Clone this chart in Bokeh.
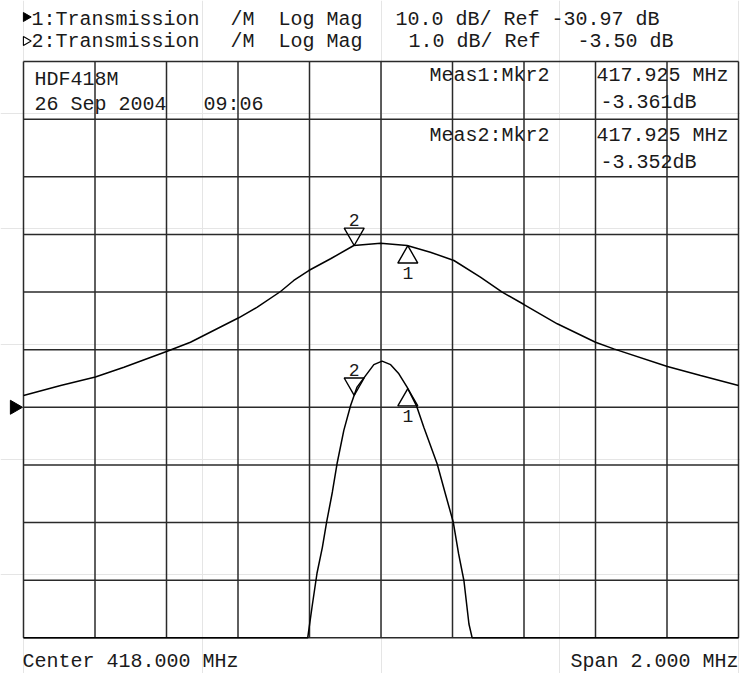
import numpy as np
from bokeh.plotting import figure
from bokeh.models import Range1d, Label
from bokeh.embed import file_html
from bokeh.resources import INLINE
from bokeh.core.properties import value

# ---------------- data ----------------
# Trace 1: broad response, 10 dB/div, Ref -30.97 dB
freq1 = [417.000, 417.104, 417.201, 417.281, 417.402, 417.467, 417.602, 417.654,
         417.719, 417.756, 417.798, 417.859, 417.924, 417.999, 418.073, 418.138,
         418.204, 418.278, 418.339, 418.400, 418.493, 418.600, 418.651, 418.801,
         418.894, 419.000]
mag1 = [-28.93, -27.19, -25.72, -24.02, -21.24, -19.68, -15.44, -13.60,
        -10.88, -8.97, -7.24, -5.20, -2.90, -2.50, -2.90, -4.06,
        -5.50, -8.40, -11.00, -13.14, -16.48, -19.68, -20.83, -23.90,
        -25.46, -27.19]
# Trace 2: passband detail, 1 dB/div, Ref -3.50 dB (clipped at bottom of screen)
freq2 = [417.000, 417.795, 417.807, 417.821, 417.836, 417.848, 417.864, 417.877,
         417.896, 417.915, 417.933, 417.957, 417.980, 418.003, 418.027, 418.050,
         418.073, 418.099, 418.120, 418.157, 418.180, 418.202, 418.217, 418.232,
         418.246, 418.255, 419.000]
mag2 = [-7.50, -7.50, -6.97, -6.38, -5.93, -5.49, -4.97, -4.48,
        -3.90, -3.47, -3.15, -2.95, -2.76, -2.70, -2.76, -2.92,
        -3.15, -3.47, -3.85, -4.48, -5.00, -5.49, -6.04, -6.51,
        -7.26, -7.50, -7.50]

center_mhz = 418.0
span_mhz = 2.0
scale1, ref1 = 10.0, -30.97
scale2, ref2 = 1.0, -3.50
ref_pos = 4          # reference line, divisions above bottom
n_div = 10
marker_freqs = [418.075, 417.925]   # marker 1, marker 2
marker_names = ["1", "2"]

# text segments: (text, column) ; column pitch of the instrument font
header1 = [("1:Transmission", 0), ("/M", 15.3), ("Log Mag", 19), ("10.0 dB/ Ref -30.97 dB", 28)]
header2 = [("2:Transmission", 0), ("/M", 15.3), ("Log Mag", 19), ("1.0 dB/ Ref", 29), ("-3.50 dB", 42)]
title1 = [("HDF418M", 0)]
title2 = [("26 Sep 2004", 0), ("09:06", 13)]
meas1 = "Meas1:Mkr2"
meas1_val = "417.925 MHz"
meas1_db = "-3.361dB"
meas2 = "Meas2:Mkr2"
meas2_val = "417.925 MHz"
meas2_db = "-3.352dB"
footer_left = "Center 418.000 MHz"
footer_right = "Span 2.000 MHz"

# ---------------- layout ----------------
W, H = 740, 673
def fx(rx):
    return rx
def fy(ry):
    return H - ry

GL, GR = fx(23), fx(738)
GB, GT = fy(637.3), fy(61)

f0 = center_mhz - span_mhz / 2
bot1 = ref1 - ref_pos * scale1
bot2 = ref2 - ref_pos * scale2
xpp = span_mhz / (GR - GL)
y1pp = n_div * scale1 / (GT - GB)
y2pp = n_div * scale2 / (GT - GB)

def dx(rx):
    return f0 + (fx(rx) - GL) * xpp
def dy1(ry):
    return bot1 + (fy(ry) - GB) * y1pp

p = figure(width=W, height=H,
           x_range=Range1d(f0 - GL * xpp, f0 + (W - GL) * xpp),
           y_range=Range1d(bot1 - GB * y1pp, bot1 + (H - GB) * y1pp),
           output_backend="svg", toolbar_location=None,
           x_axis_location=None, y_axis_location=None,
           min_border=0, min_border_left=0, min_border_right=0,
           min_border_top=0, min_border_bottom=0)
p.extra_y_ranges = {"t2": Range1d(bot2 - GB * y2pp, bot2 + (H - GB) * y2pp)}
p.outline_line_color = None
p.background_fill_color = "white"
p.border_fill_color = "white"
p.title.visible = False

FONT = "Liberation Mono"
FS = 20
DESC = 0.29          # baseline correction (fraction of font size)
TXT_COLOR = "#1a1a1a"
GRID_COLOR = "#2a2a2a"

# grid
xt = [f0 + k * span_mhz / n_div for k in range(n_div + 1)]
yt = [bot1 + k * scale1 for k in range(n_div + 1)]
p.segment(x0=xt, y0=[yt[0]] * len(xt), x1=xt, y1=[yt[-1]] * len(xt),
          line_color=GRID_COLOR, line_width=1.5)
p.segment(x0=[xt[0]] * len(yt), y0=yt, x1=[xt[-1]] * len(yt), y1=yt,
          line_color=GRID_COLOR, line_width=1.5)

# traces
p.line(freq1, mag1, line_color="black", line_width=1.5)
p.line(freq2, mag2, line_color="black", line_width=1.5, y_range_name="t2")

# markers
msize = 20
tip_off = 0.5774 * msize   # centroid to tip distance in px
MFS = 18
label_up = 20.5 + DESC * MFS
label_dn = 33.0 - DESC * MFS
for fr, mg, ypp, rng in [(freq1, mag1, y1pp, "default"), (freq2, mag2, y2pp, "t2")]:
    for mf, name in zip(marker_freqs, marker_names):
        ym = float(np.interp(mf, fr, mg))
        kw = {} if rng == "default" else {"y_range_name": rng}
        if name == "2":
            p.scatter([mf], [ym + tip_off * ypp], marker="inverted_triangle", size=msize,
                      fill_color=None, line_color="black", line_width=1.4, **kw)
            ty = ym + label_up * ypp
        else:
            p.scatter([mf], [ym - tip_off * ypp], marker="triangle", size=msize,
                      fill_color=None, line_color="black", line_width=1.4, **kw)
            ty = ym - label_dn * ypp
        p.text([mf], [ty], text=[name], text_align="center",
               text_baseline="alphabetic", text_font=value(FONT),
               text_font_size=f"{MFS}px", text_color=TXT_COLOR, **kw)

# reference level arrow (trace 1)
p.scatter([dx(22 - 0.577 * 14)], [ref1], marker="triangle", angle=-np.pi / 2, size=14,
          fill_color="black", line_color="black")
# header channel arrows
p.scatter([dx(25.5)], [dy1(16.5)], marker="triangle", angle=-np.pi / 2, size=9,
          fill_color="black", line_color="black")
p.scatter([dx(25.5)], [dy1(40.5)], marker="triangle", angle=-np.pi / 2, size=9,
          fill_color=None, line_color="black", line_width=1.1)

PITCH = 13.0
def lab(rx, ry, txt, align="left", fs=FS):
    p.add_layout(Label(x=dx(rx), y=dy1(ry - DESC * fs), text=txt, text_align=align,
                       text_baseline="alphabetic", text_font=FONT,
                       text_font_size=f"{fs}px", text_color=TXT_COLOR))

def segs(rx, ry, parts):
    for t, col in parts:
        lab(rx + col * PITCH, ry, t)

segs(31, 24.5, header1)
segs(31, 47, header2)
segs(34, 85, title1)
segs(34, 110, title2)
lab(429, 81, meas1)
lab(728, 81, meas1_val, "right")
lab(600, 108, meas1_db)
lab(429, 141, meas2)
lab(728, 141, meas2_val, "right")
lab(600, 168, meas2_db)
lab(22, 667, footer_left)
lab(738, 667, footer_right, "right")

open("out.html", "w").write(file_html(p, INLINE))
